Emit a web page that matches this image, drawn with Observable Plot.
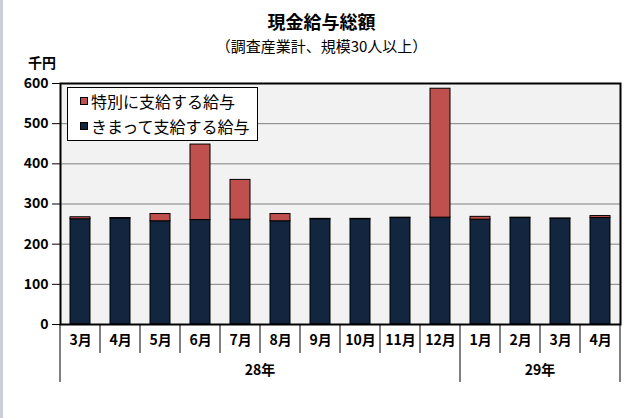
<!DOCTYPE html>
<html>
<head>
<meta charset="utf-8">
<script src="https://cdn.jsdelivr.net/npm/d3@7"></script>
<script src="https://cdn.jsdelivr.net/npm/@observablehq/plot@0.6"></script>
<style>
  html, body { margin: 0; padding: 0; background: #fff; }
  #wrap { position: relative; width: 643px; height: 418px; overflow: hidden; font-family: "Noto Sans CJK JP", sans-serif; color: #000; }
  #strip { position: absolute; left: 0; top: 0; width: 3px; height: 418px; background: #c9ceda; }
  .abs { position: absolute; white-space: nowrap; line-height: 1; }
  #title { left: 0; width: 643px; text-align: center; top: 12px; font-size: 18px; font-weight: bold; }
  #subtitle { left: 0; width: 643px; text-align: center; top: 38px; font-size: 15px; }
  #unit { left: 28px; top: 55px; font-size: 14px; font-weight: bold; }
  #legend { left: 67px; top: 87px; width: 189px; height: 52px; background: #fff; border: 1px solid #000; }
  .row { position: absolute; left: 12px; display: flex; align-items: center; font-size: 16px; }
  .sw { width: 6px; height: 6px; border: 1px solid #000; margin-right: 3px; }
  #chart { position: absolute; left: 0; top: 0; }
</style>
</head>
<body>
<div id="wrap">
  <div id="strip"></div>
  <div id="chart"></div>
  <div id="title" class="abs">現金給与総額</div>
  <div id="subtitle" class="abs">（調査産業計、規模30人以上）</div>
  <div id="unit" class="abs">千円</div>
  <div id="legend" class="abs"></div>
</div>
<script>
// ---- data ----
const keys = ["28-3","28-4","28-5","28-6","28-7","28-8","28-9","28-10","28-11","28-12","29-1","29-2","29-3","29-4"];
const monthLabels = ["3月","4月","5月","6月","7月","8月","9月","10月","11月","12月","1月","2月","3月","4月"];
const yearOf = ["28年","28年","28年","28年","28年","28年","28年","28年","28年","28年","29年","29年","29年","29年"];
const years = ["28年","29年"];
const seriesNames = ["きまって支給する給与","特別に支給する給与"];
const regular = [262, 264, 257, 260, 261, 257, 262, 262, 265, 266, 261, 265, 263, 265];
const special = [5, 1, 18, 188, 99, 18, 1, 1, 1, 321, 7, 1, 1, 5];
const yTicks = [0, 100, 200, 300, 400, 500, 600];
const gridTicks = [100, 200, 300, 400, 500];
const colors = ["#13263f", "#c0504d"];

const data = [];
keys.forEach((k, i) => {
  data.push({key: k, series: seriesNames[0], value: regular[i]});
  data.push({key: k, series: seriesNames[1], value: special[i]});
});
const labelOf = Object.fromEntries(keys.map((k, i) => [k, monthLabels[i]]));

const font = "Noto Sans CJK JP, sans-serif";

const plot = Plot.plot({
  width: 643,
  height: 418,
  marginLeft: 60,
  marginRight: 23,
  marginTop: 83,
  marginBottom: 94,
  style: {fontFamily: font, fontSize: "14px", background: "transparent", color: "#000"},
  x: {domain: keys, paddingInner: 0.5, paddingOuter: 0.25, label: null, axis: null},
  y: {domain: [0, 600], label: null, axis: null},
  color: {domain: seriesNames, range: colors},
  marks: [
    Plot.frame({fill: "#f2f2f2", stroke: null}),
    Plot.gridY(gridTicks, {stroke: "#808080", strokeOpacity: 1, strokeWidth: 1}),
    Plot.barY(data, Plot.stackY({x: "key", y: "value", fill: "series", stroke: "#000", strokeWidth: 1, order: seriesNames})),
    Plot.frame({stroke: "#000", strokeWidth: 2}),
    Plot.axisY({ticks: yTicks, tickSize: 8, tickPadding: 4, stroke: "#000", fontSize: 14, fontWeight: "bold", label: null}),
    Plot.axisX({tickSize: 0, tickPadding: 11, tickFormat: k => labelOf[k], fontSize: 14, fontWeight: "bold", label: null})
  ]
});
document.getElementById("chart").appendChild(plot);

// separators and year labels from the x scale
const xs = plot.scale("x");
const ys = plot.scale("y");
const bw = xs.bandwidth, step = xs.step;
const center = k => xs.apply(k) + bw / 2;
const y0 = ys.apply(0);
const svg = d3.select(plot);
const g = svg.append("g").attr("stroke", "#000").attr("stroke-width", 1);
keys.forEach((k, i) => {
  const left = center(k) - step / 2;
  const isYearStart = i === 0 || yearOf[i] !== yearOf[i - 1];
  g.append("line").attr("x1", left).attr("x2", left).attr("y1", y0).attr("y2", y0 + (isYearStart ? 58 : 29));
});
const lastRight = center(keys[keys.length - 1]) + step / 2;
g.append("line").attr("x1", lastRight).attr("x2", lastRight).attr("y1", y0).attr("y2", y0 + 58);

years.forEach(yr => {
  const ks = keys.filter((k, i) => yearOf[i] === yr);
  const cx = (center(ks[0]) + center(ks[ks.length - 1])) / 2;
  svg.append("text").attr("x", cx).attr("y", y0 + 51).attr("text-anchor", "middle")
    .attr("font-family", font).attr("font-size", 14).attr("font-weight", "bold").text(yr);
});

// legend
const legend = document.getElementById("legend");
[seriesNames[1], seriesNames[0]].forEach((name, i) => {
  const row = document.createElement("div");
  row.className = "row";
  row.style.top = (i === 0 ? 5 : 30) + "px";
  const sw = document.createElement("div");
  sw.className = "sw";
  sw.style.background = colors[seriesNames.indexOf(name)];
  const t = document.createElement("span");
  t.textContent = name;
  row.appendChild(sw); row.appendChild(t);
  legend.appendChild(row);
});
</script>
</body>
</html>
